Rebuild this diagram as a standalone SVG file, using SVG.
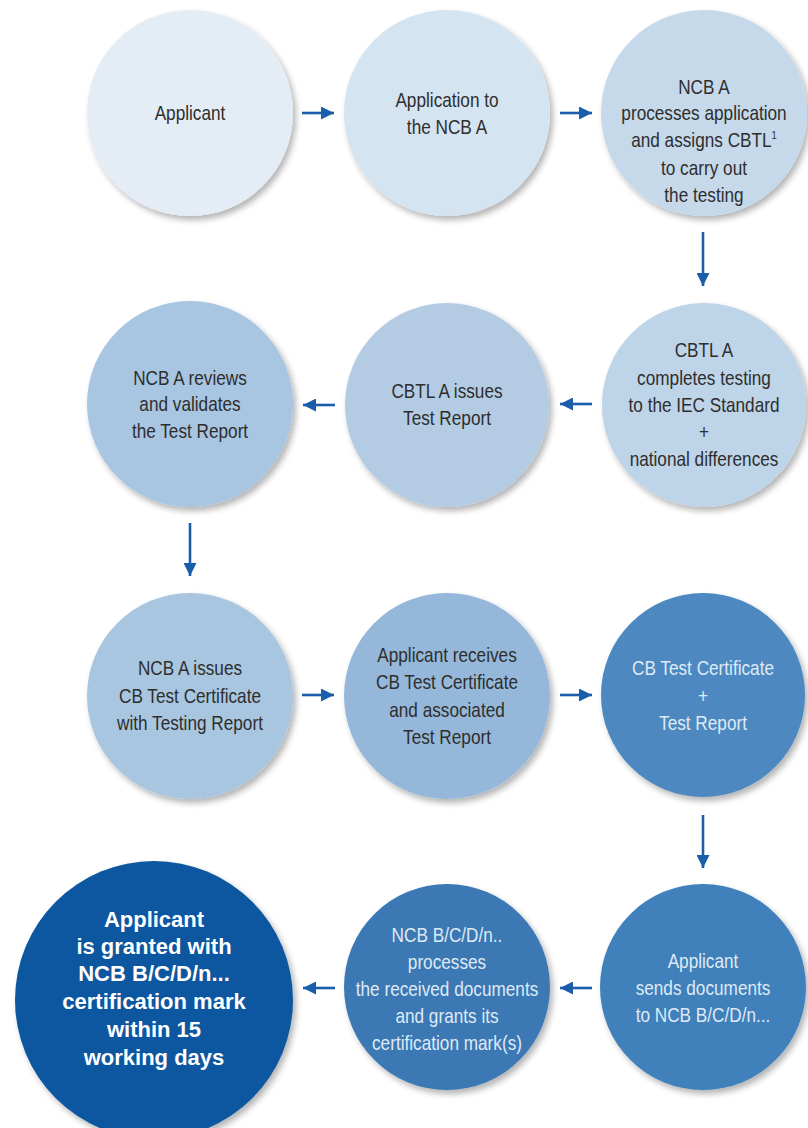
<svg xmlns="http://www.w3.org/2000/svg" width="808" height="1128" viewBox="0 0 808 1128">
<defs>
<filter id="sh" x="-20%" y="-20%" width="150%" height="150%">
<feGaussianBlur in="SourceAlpha" stdDeviation="3"/>
<feOffset dx="3" dy="4" result="b"/>
<feComponentTransfer><feFuncA type="linear" slope="0.3"/></feComponentTransfer>
<feMerge><feMergeNode/><feMergeNode in="SourceGraphic"/></feMerge>
</filter>
<marker id="ah" viewBox="0 0 10 10" refX="10" refY="5" markerWidth="5" markerHeight="5" markerUnits="strokeWidth" orient="auto">
<path d="M0,0 L10,5 L0,10 z" fill="#1a5da8"/>
</marker>
<style>
.t{font-family:"Liberation Sans",Arial,sans-serif;font-size:20px;text-anchor:middle;fill:#2e2e2e}
.w{fill:#dfeaf5}
.b{font-family:"Liberation Sans",Arial,sans-serif;font-size:22px;font-weight:bold;text-anchor:middle;fill:#ffffff}
.c{stroke:#1a5da8;stroke-width:2.6;fill:none;marker-end:url(#ah)}
circle{filter:url(#sh)}
</style>
</defs>
<rect width="808" height="1128" fill="#ffffff"/>

<g id="n1"><circle cx="190" cy="113" r="103" fill="#e4edf6"/>
<g transform="translate(190 0) scale(0.86 1)"><text class="t" x="0" y="120">Applicant</text></g></g>

<g id="n2"><circle cx="447" cy="113" r="103" fill="#d5e4f1"/>
<g transform="translate(447 0) scale(0.86 1)">
<text class="t" x="0" y="107">Application to</text>
<text class="t" x="0" y="134">the NCB A</text></g></g>

<g id="n3"><circle cx="704" cy="113" r="103" fill="#c5d9eb"/>
<g transform="translate(704 0) scale(0.86 1)">
<text class="t" x="0" y="94">NCB A</text>
<text class="t" x="0" y="120">processes application</text>
<text class="t" x="0" y="147">and assigns CBTL<tspan font-size="11" dy="-8">1</tspan></text>
<text class="t" x="0" y="175">to carry out</text>
<text class="t" x="0" y="202">the testing</text></g></g>

<g id="n4"><circle cx="704" cy="405" r="102" fill="#bed4e8"/>
<g transform="translate(704 0) scale(0.86 1)">
<text class="t" x="0" y="357">CBTL A</text>
<text class="t" x="0" y="385">completes testing</text>
<text class="t" x="0" y="412">to the IEC Standard</text>
<text class="t" x="0" y="439">+</text>
<text class="t" x="0" y="466">national differences</text></g></g>

<g id="n5"><circle cx="447" cy="405" r="102" fill="#b3cce4"/>
<g transform="translate(447 0) scale(0.86 1)">
<text class="t" x="0" y="398">CBTL A issues</text>
<text class="t" x="0" y="425">Test Report</text></g></g>

<g id="n6"><circle cx="190" cy="404" r="103" fill="#a8c5e1"/>
<g transform="translate(190 0) scale(0.86 1)">
<text class="t" x="0" y="385">NCB A reviews</text>
<text class="t" x="0" y="411">and validates</text>
<text class="t" x="0" y="438">the Test Report</text></g></g>

<g id="n7"><circle cx="190" cy="696" r="103" fill="#a9c6e1"/>
<g transform="translate(190 0) scale(0.86 1)">
<text class="t" x="0" y="675">NCB A issues</text>
<text class="t" x="0" y="703">CB Test Certificate</text>
<text class="t" x="0" y="730">with Testing Report</text></g></g>

<g id="n8"><circle cx="447" cy="696" r="103" fill="#95b8da"/>
<g transform="translate(447 0) scale(0.86 1)">
<text class="t" x="0" y="662">Applicant receives</text>
<text class="t" x="0" y="689">CB Test Certificate</text>
<text class="t" x="0" y="717">and associated</text>
<text class="t" x="0" y="744">Test Report</text></g></g>

<g id="n9"><circle cx="703" cy="695" r="102" fill="#4d88c0"/>
<g transform="translate(703 0) scale(0.86 1)">
<text class="t w" x="0" y="675">CB Test Certificate</text>
<text class="t w" x="0" y="703">+</text>
<text class="t w" x="0" y="730">Test Report</text></g></g>

<g id="n10"><circle cx="703" cy="987" r="103" fill="#4080bb"/>
<g transform="translate(703 0) scale(0.86 1)">
<text class="t w" x="0" y="968">Applicant</text>
<text class="t w" x="0" y="995">sends documents</text>
<text class="t w" x="0" y="1022">to NCB B/C/D/n...</text></g></g>

<g id="n11"><circle cx="447" cy="987" r="103" fill="#3a78b4"/>
<g transform="translate(447 0) scale(0.86 1)">
<text class="t w" x="0" y="942">NCB B/C/D/n..</text>
<text class="t w" x="0" y="969">processes</text>
<text class="t w" x="0" y="996">the received documents</text>
<text class="t w" x="0" y="1023">and grants its</text>
<text class="t w" x="0" y="1050">certification mark(s)</text></g></g>

<g id="n12"><circle cx="154" cy="1000" r="139" fill="#0a56a0"/>
<text class="b" x="154" y="927">Applicant</text>
<text class="b" x="154" y="954">is granted with</text>
<text class="b" x="154" y="981">NCB B/C/D/n...</text>
<text class="b" x="154" y="1009">certification mark</text>
<text class="b" x="154" y="1037">within 15</text>
<text class="b" x="154" y="1065">working days</text></g>

<g id="connectors">
<line class="c" x1="302" y1="113" x2="334" y2="113"/>
<line class="c" x1="560" y1="113" x2="592" y2="113"/>
<line class="c" x1="703" y1="232" x2="703" y2="286"/>
<line class="c" x1="592" y1="404" x2="560" y2="404"/>
<line class="c" x1="335" y1="405" x2="303" y2="405"/>
<line class="c" x1="190" y1="523" x2="190" y2="576"/>
<line class="c" x1="302" y1="695" x2="334" y2="695"/>
<line class="c" x1="560" y1="695" x2="592" y2="695"/>
<line class="c" x1="703" y1="815" x2="703" y2="868"/>
<line class="c" x1="592" y1="988" x2="560" y2="988"/>
<line class="c" x1="335" y1="988" x2="303" y2="988"/>
</g>
</svg>
